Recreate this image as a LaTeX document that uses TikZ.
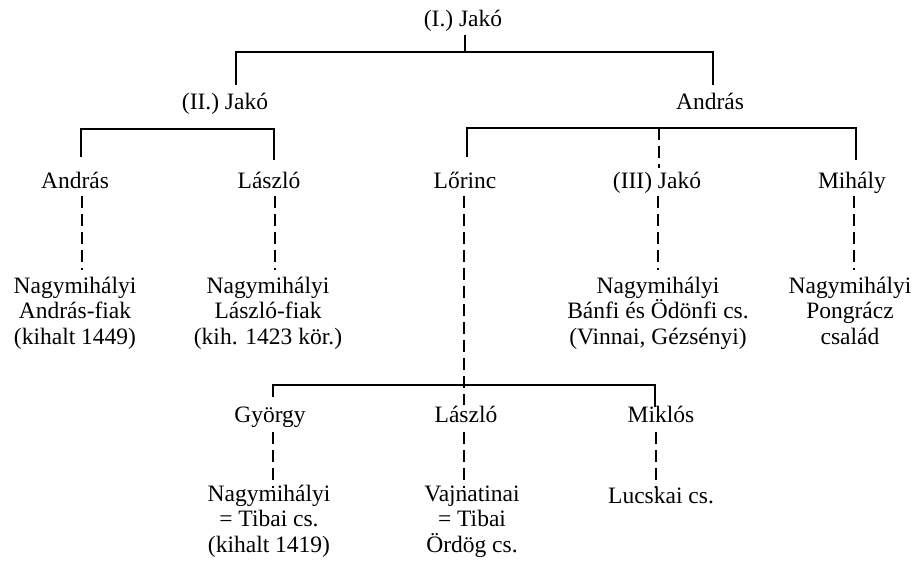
\documentclass[tikz,border=0pt]{standalone}
\usepackage{fontspec}
\setmainfont{Liberation Serif}
\begin{document}
\begin{tikzpicture}[x=1pt,y=-1pt,
  lbl/.style={inner sep=0pt,anchor=base,align=center,font=\fontsize{23.5}{25.5}\selectfont},
  ln/.style={line width=1.3pt},
  dl/.style={line width=1.3pt,dash pattern=on 12pt off 6pt}]
\useasboundingbox (0,0) rectangle (917,564);
% names (multi-line nodes: base = baseline of last line)
\node[lbl] (j1) at (463,27) {(I.) Jakó};
\node[lbl] (j2) at (225,110) {(II.) Jakó};
\node[lbl] (a1) at (710,110) {András};
\node[lbl] (a2) at (75,188) {András};
\node[lbl] (l1) at (269,188) {László};
\node[lbl] (lo) at (465,188) {Lőrinc};
\node[lbl] (j3) at (657,188) {(III) Jakó};
\node[lbl] (mi) at (852,188) {Mihály};
\node[lbl] (n1) at (75,344) {Nagymihályi\\András-fiak\\(kihalt 1449)};
\node[lbl] (n2) at (268,344) {Nagymihályi\\László-fiak\\(kih. 1423 kör.)};
\node[lbl] (n3) at (658,344) {Nagymihályi\\Bánfi és Ödönfi cs.\\(Vinnai, Gézsényi)};
\node[lbl] (n4) at (850,344) {Nagymihályi\\Pongrácz\\család};
\node[lbl] (gy) at (270,422) {György};
\node[lbl] (l2) at (466,422) {László};
\node[lbl] (mk) at (661,422) {Miklós};
\node[lbl] (n5) at (269,552) {Nagymihályi\\= Tibai cs.\\(kihalt 1419)};
\node[lbl] (n6) at (472,552) {Vajnatinai\\= Tibai\\Ördög cs.};
\node[lbl] (n7) at (661,503) {Lucskai cs.};
% bracket points
\coordinate (b1) at (465,52);
\coordinate (b2) at (150,129);
\coordinate (b3) at (659,128);
\coordinate (b4) at (464,385);
% top
\draw[ln] ([xshift=2pt,yshift=-8pt]j1.base) -- (b1);
\draw[ln] ([xshift=11pt,yshift=25pt]j2.base) |- (b1) -| ([xshift=3pt,yshift=25pt]a1.base);
% (II.) Jako bracket
\draw[ln] ([xshift=6pt,yshift=31pt]a2.base) |- (b2) -| ([xshift=5pt,yshift=28pt]l1.base);
% Andras bracket
\draw[ln] ([xshift=2pt,yshift=31pt]lo.base) |- (b3) -| ([xshift=4pt,yshift=28pt]mi.base);
\draw[dl] (b3) -- ([xshift=2pt,yshift=20pt]j3.base);
% row 3 to row 4
\draw[dl] ([xshift=7pt,yshift=-8pt]a2.base) -- ([xshift=7pt,yshift=74pt]n1.base);
\draw[dl] ([xshift=6pt,yshift=-8pt]l1.base) -- ([xshift=7pt,yshift=74pt]n2.base);
\draw[dl] ([xshift=1pt,yshift=-8pt]j3.base) -- ([xshift=0pt,yshift=74pt]n3.base);
\draw[dl] ([xshift=2pt,yshift=-8pt]mi.base) -- ([xshift=4pt,yshift=74pt]n4.base);
% Lorinc line
\draw[dl] ([xshift=-1pt,yshift=-8pt]lo.base) -- ([xshift=-2pt,yshift=17pt]l2.base);
\draw[ln] ([xshift=3pt,yshift=25pt]gy.base) |- (b4) -| ([xshift=-6pt,yshift=15pt]mk.base);
% row 5 to row 6
\draw[dl] ([xshift=3pt,yshift=-10pt]gy.base) -- ([xshift=4pt,yshift=64pt]n5.base);
\draw[dl] ([xshift=-2pt,yshift=-10pt]l2.base) -- ([xshift=-8pt,yshift=64pt]n6.base);
\draw[dl] ([xshift=-5pt,yshift=-10pt]mk.base) -- ([xshift=-5pt,yshift=15pt]n7.base);
\end{tikzpicture}
\end{document}
